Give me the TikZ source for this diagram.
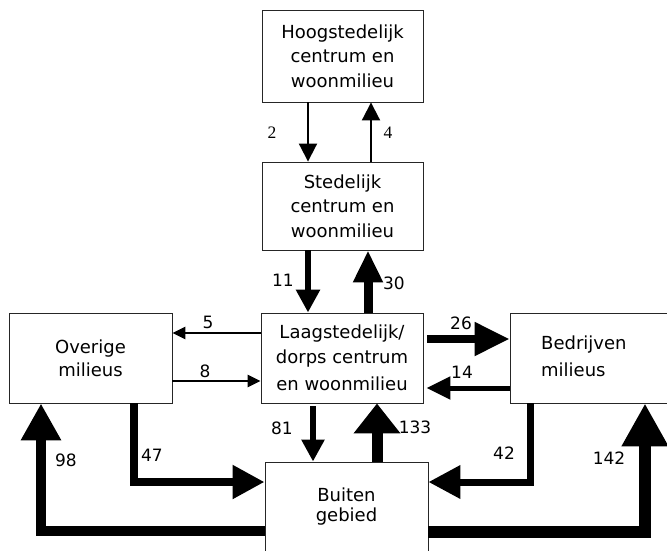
\documentclass[tikz,border=0pt]{standalone}
\usepackage{fontspec}
\setmainfont{DejaVu Sans}
\newfontfamily\numserif{Liberation Serif}
\usetikzlibrary{arrows.meta}
\begin{document}
\begin{tikzpicture}[x=1pt,y=-1pt,
  box/.style={draw=black!85, line width=0.9pt, fill=white, inner sep=0pt, align=center,
    minimum width=161pt, minimum height=90pt},
  txt/.style={font=\fontsize{18}{24.5}\selectfont},
  lbl/.style={font=\fontsize{17}{18}\selectfont, inner sep=0pt},
  slbl/.style={font=\numserif\fontsize{17.5}{18}\selectfont, inner sep=0pt},
  flow/.style={line width=#1, line join=miter},
]
\useasboundingbox (0,0) rectangle (667,550);

% boxes
\node[box, minimum height=92pt, txt] (hoog) at (342.5,56) {Hoogstedelijk\\centrum en\\woonmilieu};
\node[box, minimum height=88pt, txt] (sted) at (342.5,206) {Stedelijk\\centrum en\\woonmilieu};
\node[box, minimum width=162pt, txt] (laag) at (342,358) {Laagstedelijk/\\dorps centrum\\[3pt]en woonmilieu};
\node[box, minimum width=163pt, font=\fontsize{18}{23}\selectfont] (over) at (90.5,358) {Overige\\milieus};
\node[box, minimum width=160pt] (bedr) at (590,358) {};
\node[anchor=west, align=left, inner sep=0pt, font=\fontsize{18}{27}\selectfont] (bedrtxt) at (541,356) {Bedrijven\\milieus};
\node[box, minimum width=163pt, font=\fontsize{18}{20}\selectfont] (buit) at (346.5,507) {Buiten\\gebied};

% thin arrows top
\draw[flow=2pt, -{Triangle[length=18pt,width=18pt]}] ([xshift=-34.5pt]hoog.south) -- ([xshift=-34.5pt]sted.north);
\draw[flow=2pt, -{Triangle[length=18pt,width=18pt]}] ([xshift=28.5pt]sted.north) -- ([xshift=28.5pt]hoog.south);
\node[slbl] (l2) at (272,133) {2};
\node[slbl] (l4) at (388,133) {4};

% stedelijk <-> laag
\draw[flow=6pt, -{Triangle[length=23pt,width=23pt]}] ([xshift=-34.5pt]sted.south) -- ([xshift=-34pt]laag.north);
\draw[flow=9pt, -{Triangle[length=32pt,width=28pt]}] ([xshift=26pt]laag.north) -- ([xshift=25.5pt]sted.south);
\node[lbl] (l11) at (283,280) {11};
\node[lbl] (l30) at (394,283) {30};

% overige <-> laag
\draw[flow=2.5pt, -{Triangle[length=13pt,width=12pt]}] ([yshift=25pt]laag.west) -- ([yshift=25pt]over.east);
\draw[flow=2.5pt, -{Triangle[length=13pt,width=12pt]}] ([yshift=-23pt]over.east) -- ([yshift=-23pt]laag.west);
\node[lbl] (l5) at (208,322) {5};
\node[lbl] (l8) at (205,371) {8};

% laag <-> bedrijven
\draw[flow=8pt, -{Triangle[length=35pt,width=32pt]}] ([xshift=4pt,yshift=19pt]laag.east) -- ([yshift=19pt]bedr.west);
\draw[flow=5pt, -{Triangle[length=24pt,width=22pt]}] ([yshift=-30pt]bedr.west) -- ([xshift=3pt,yshift=-30pt]laag.east);
\node[lbl] (l26) at (461,323) {26};
\node[lbl] (l14) at (462,372) {14};

% laag <-> buiten
\draw[flow=6pt, -{Triangle[length=22pt,width=22pt]}] ([xshift=-29pt,yshift=-3pt]laag.south) -- ([xshift=-33.5pt]buit.north);
\draw[flow=11pt, -{Triangle[length=30pt,width=45pt]}] ([xshift=30.5pt]buit.north) -- ([xshift=35pt]laag.south);
\node[lbl] (l81) at (282,428) {81};
\node[lbl] (l133) at (415,427) {133};

% overige -> buiten
\coordinate (c47) at (134,482);
\draw[flow=8pt, -{Triangle[length=32pt,width=32pt]}] (over.south -| c47) -- (c47) -- (buit.west |- c47);
\node[lbl] (l47) at (152,455) {47};

% bedrijven -> buiten
\coordinate (c42) at (530,482);
\draw[flow=7pt, -{Triangle[length=32pt,width=32pt]}] (bedr.south -| c42) -- (c42) -- (buit.east |- c42);
\node[lbl] (l42) at (504,453) {42};

% buiten -> overige
\coordinate (c98) at (41,531);
\draw[flow=10pt, -{Triangle[length=37pt,width=38pt]}] (buit.west |- c98) -- (c98) -- (over.south -| c98);
\node[lbl] (l98) at (66,460) {98};

% buiten -> bedrijven
\coordinate (c142) at (645,532);
\draw[flow=12pt, -{Triangle[length=43pt,width=44pt]}] (buit.east |- c142) -- (c142) -- (bedr.south -| c142);
\node[lbl] (l142) at (609,458) {142};
\end{tikzpicture}
\end{document}
